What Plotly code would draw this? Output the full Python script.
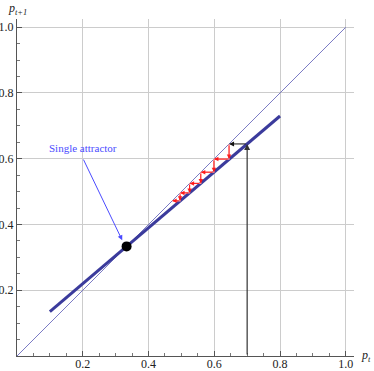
import plotly.graph_objects as go

# data
diag_x = [0.0, 1.0]
diag_y = [0.0, 1.0]
map_x = [0.1, 0.8]
map_y = [0.135, 0.73]
attractor = [1/3, 1/3]
start_p = 0.7
cobweb_p = [0.7, 0.645, 0.599, 0.559, 0.525, 0.496, 0.472]
tick_vals = [0.2, 0.4, 0.6, 0.8, 1.0]
tick_text = ["0.2", "0.4", "0.6", "0.8", "1.0"]

SERIF = "Liberation Serif, Times New Roman, serif"

fig = go.Figure()
fig.add_trace(go.Scatter(x=diag_x, y=diag_y, mode="lines",
                         line=dict(color="#7b7bc4", width=1), hoverinfo="skip"))
fig.add_trace(go.Scatter(x=map_x, y=map_y, mode="lines",
                         line=dict(color="#3b3b9c", width=3), hoverinfo="skip"))

# pink cobweb path
cx, cy = [], []
for i in range(1, len(cobweb_p) - 1):
    p, q = cobweb_p[i], cobweb_p[i + 1]
    cx += [p, p, q, None]
    cy += [p, q, q, None]
fig.add_trace(go.Scatter(x=cx, y=cy, mode="lines",
                         line=dict(color="#ff9a9a", width=1.2), hoverinfo="skip"))

fig.add_trace(go.Scatter(x=[attractor[0]], y=[attractor[1]], mode="markers",
                         marker=dict(color="black", size=10), hoverinfo="skip"))

ann = []
def arrow(x0, y0, x1, y1, color, width=1.0, head=2, size=1.0):
    ann.append(dict(x=x1, y=y1, ax=x0, ay=y0, xref="x", yref="y", axref="x", ayref="y",
                    text="", showarrow=True, arrowhead=head, arrowsize=size,
                    arrowwidth=width, arrowcolor=color, standoff=0, startstandoff=0))

# initial black arrows
arrow(start_p, 0.0, start_p, cobweb_p[1], "#333333", 1.2)
arrow(start_p, cobweb_p[1], cobweb_p[1], cobweb_p[1], "#111111", 1.0)
# red arrowheads on cobweb
for i in range(1, len(cobweb_p) - 1):
    p, q = cobweb_p[i], cobweb_p[i + 1]
    arrow(p, p, p, q, "rgba(255,0,0,0.85)", 1.0, head=2, size=0.9)
    arrow(p, q, q, q, "rgba(255,0,0,0.85)", 1.0, head=2, size=0.9)

# attractor label
ann.append(dict(x=0.2, y=0.632, xref="x", yref="y", text="Single attractor",
                showarrow=False, font=dict(family=SERIF, size=11, color="#4b4bff")))
arrow(0.2, 0.602, 0.32, 0.352, "#4b4bff", 1.0, head=2, size=1.0)

# axis labels
ann.append(dict(x=1.0, y=0.0, xref="paper", yref="y", xanchor="left", yanchor="middle",
                xshift=5, text="<i>p<sub>t</sub></i>", showarrow=False,
                font=dict(family=SERIF, size=12, color="#222")))
ann.append(dict(x=0.0, y=1.0, xref="x", yref="paper", xanchor="center", yanchor="middle",
                yshift=10, text="<i>p<sub>t+1</sub></i>", showarrow=False,
                font=dict(family=SERIF, size=12, color="#222")))
fig.update_layout(annotations=ann)

axis_common = dict(range=[0, 1.025], tickvals=tick_vals, ticktext=tick_text,
                   ticks="inside", ticklen=5, tickwidth=1, tickcolor="#555",
                   showgrid=True, gridcolor="#cccccc", gridwidth=1,
                   showline=True, linecolor="#555", linewidth=1, zeroline=False,
                   minor=dict(tickvals=[0.05 * k for k in range(1, 21)], ticks="inside",
                              ticklen=3, tickcolor="#777", showgrid=False),
                   tickfont=dict(family=SERIF, size=12, color="#222"),
                   automargin=False, fixedrange=True)
fig.update_xaxes(**axis_common)
fig.update_yaxes(**axis_common)
fig.update_xaxes(ticklabelstandoff=-3)

fig.update_layout(width=374, height=371, margin=dict(l=17, r=20, t=19, b=15),
                  plot_bgcolor="white", paper_bgcolor="white", showlegend=False)
fig.write_html("out.html", config={"displayModeBar": False},
               post_script="document.body.style.margin='0';document.body.style.overflow='hidden';")
